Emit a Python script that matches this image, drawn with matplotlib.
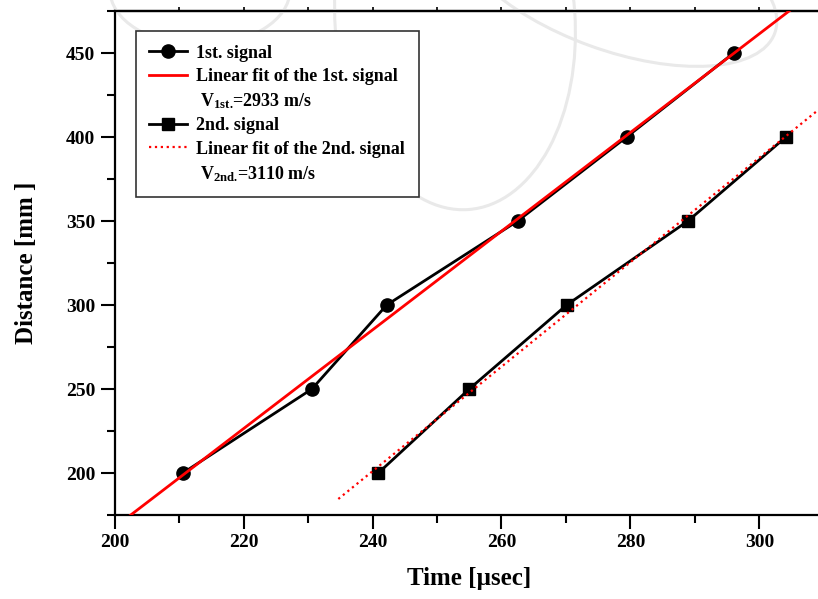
import numpy as np
import matplotlib
matplotlib.use("Agg")
import matplotlib.pyplot as plt
from matplotlib.lines import Line2D
from matplotlib.patches import Ellipse
from matplotlib.transforms import IdentityTransform

plt.rcParams['font.family'] = ['Liberation Serif', 'DejaVu Serif']
plt.rcParams['font.weight'] = 'bold'
plt.rcParams['mathtext.fontset'] = 'custom'
plt.rcParams['mathtext.rm'] = 'Liberation Serif:bold'
plt.rcParams['mathtext.bf'] = 'Liberation Serif:bold'
plt.rcParams['mathtext.it'] = 'Liberation Serif:bold'

# data
t1 = [210.6, 230.6, 242.2, 262.5, 279.4, 296.0]
d1 = [200, 250, 300, 350, 400, 450]
t2 = [240.9, 255.0, 270.1, 288.9, 304.1]
d2 = [200, 250, 300, 350, 400]
fit1_span = [200, 312]
fit2_span = [234.7, 312]

labels = ["1st. signal", "Linear fit of the 1st. signal",
          r" $\mathbf{V}_{\mathbf{1st.}}\!$=2933 m/s",
          "2nd. signal", "Linear fit of the 2nd. signal",
          r" $\mathbf{V}_{\mathbf{2nd.}}\!$=3110 m/s"]

fig = plt.figure(figsize=(8.18, 5.99), dpi=100)
ax = fig.add_axes([0.140, 0.1402, 0.8673, 0.8414])

# faint watermark arcs (pixel coords, y up)
H = 599
for cx, cy, w, h, ang in [(455, 20, 240, 380, 4), (615, -25, 340, 150, -20), (200, -10, 180, 110, 0)]:
    e = Ellipse((cx, H - cy), w, h, angle=ang, fill=False, ec='#e9e9e9', lw=2.2,
                transform=IdentityTransform(), clip_on=False, zorder=0.5)
    ax.add_artist(e)

p1 = np.polyfit(t1, d1, 1)
p2 = np.polyfit(t2, d2, 1)
x1 = np.array(fit1_span)
x2 = np.array(fit2_span)

l1, = ax.plot(t1, d1, '-o', color='black', lw=2, ms=9.5, zorder=3)
f1, = ax.plot(x1, np.polyval(p1, x1), '-', color='#ff0000', lw=2, zorder=4)
l2, = ax.plot(t2, d2, '-s', color='black', lw=2, ms=8, zorder=3)
f2, = ax.plot(x2, np.polyval(p2, x2), ':', color='#ff0000', lw=1.6, zorder=4)
blank = Line2D([], [], linestyle='none')

ax.set_xlim(200, 310)
ax.set_ylim(175, 475)
ax.set_xticks(np.arange(200, 301, 20))
ax.set_xticks(np.arange(210, 311, 20), minor=True)
ax.set_yticks(np.arange(200, 451, 50))
ax.set_yticks(np.arange(175, 476, 50), minor=True)
ax.tick_params(which='major', length=10, width=1.5, direction='out', labelsize=14, pad=4)
ax.tick_params(which='minor', length=6, width=1.5, direction='out')
for s in ax.spines.values():
    s.set_linewidth(1.6)
ax.spines['right'].set_visible(False)

top = ax.secondary_xaxis('top')
top.set_xticks(np.arange(200, 311, 10))
top.tick_params(length=3, width=1.2, labeltop=False)
top.spines['top'].set_linewidth(1.6)

ax.set_xlabel("Time [\u00b5sec]", fontsize=18, fontweight='bold', labelpad=11)
ax.set_ylabel("Distance [mm ]", fontsize=18, fontweight='bold', labelpad=20)

leg = ax.legend([l1, f1, blank, l2, f2, blank], labels, loc='upper left',
                bbox_to_anchor=(0.030, 0.960), borderaxespad=0, fontsize=13,
                numpoints=1, handlelength=2.1, handletextpad=0.5, labelspacing=0.35,
                fancybox=False, framealpha=1, edgecolor='#333333', borderpad=0.75)
leg.get_frame().set_linewidth(1.2)

fig.savefig("out.png", dpi=100)
